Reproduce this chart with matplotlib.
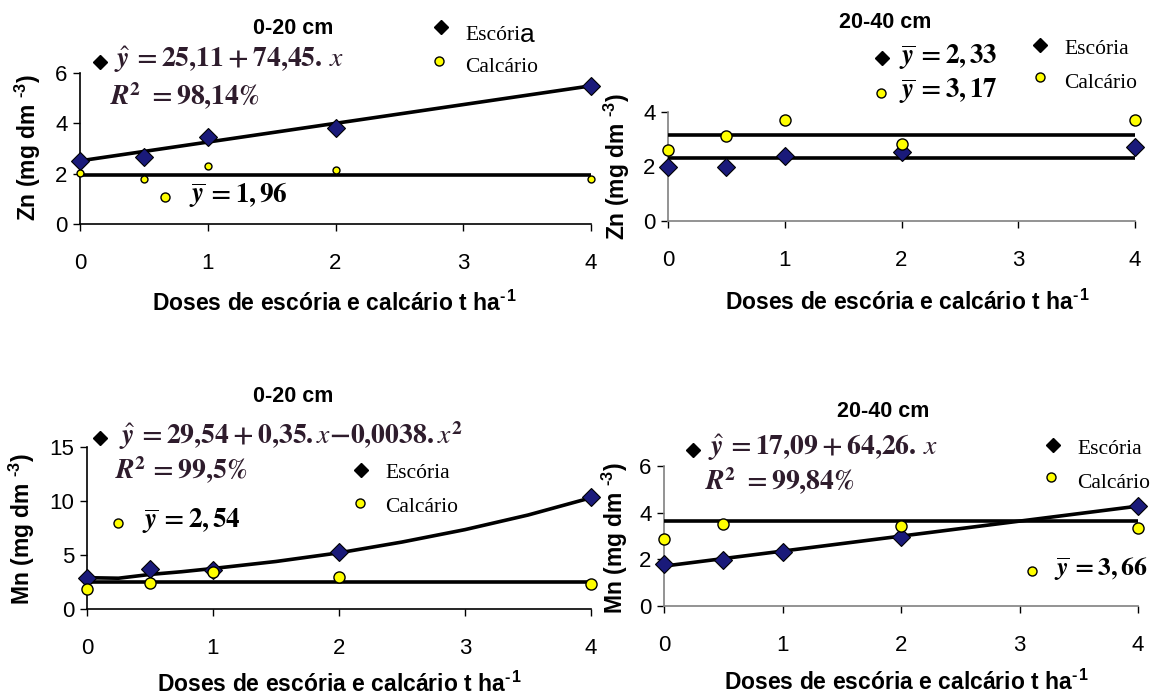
import matplotlib
matplotlib.use("Agg")
import matplotlib.pyplot as plt

# --------------------------------------------------------------------------
# Data
# --------------------------------------------------------------------------
doses = [0, 0.5, 1, 2, 4]

zn_020_escoria = [2.50, 2.66, 3.46, 3.80, 5.50]
zn_020_calcario = [2.03, 1.78, 2.30, 2.14, 1.79]
zn_020_fit_x = [0, 4]
zn_020_fit_y = [2.51, 5.49]
zn_020_mean = 1.96

zn_2040_escoria = [1.97, 1.98, 2.40, 2.55, 2.72]
zn_2040_calcario = [2.60, 3.12, 3.70, 2.82, 3.70]
zn_2040_mean_esc = 2.33
zn_2040_mean_cal = 3.17

mn_020_escoria = [2.85, 3.70, 3.60, 5.30, 10.40]
mn_020_calcario = [1.85, 2.45, 3.45, 2.95, 2.35]
mn_020_fit_x = [0, 0.25, 0.5, 0.75, 1, 1.5, 2, 2.5, 3, 3.5, 4]
mn_020_fit_y = [2.90, 2.85, 3.20, 3.45, 3.75, 4.40, 5.20, 6.20, 7.35, 8.70, 10.30]
mn_020_mean = 2.54

mn_2040_escoria = [1.80, 1.97, 2.33, 2.97, 4.30]
mn_2040_calcario = [2.87, 3.52, 5.15, 3.43, 3.33]
mn_2040_fit_x = [0, 4]
mn_2040_fit_y = [1.71, 4.28]
mn_2040_mean = 3.66

XTICKS = [0, 1, 2, 3, 4]
XLABEL = "Doses de escória e calcário t ha$^{\\mathbf{\u2010\u200a1}}$"
ZN_LABEL = "Zn (mg dm $^{\\mathbf{\u20103}}$)"
MN_LABEL = "Mn (mg dm $^{\\mathbf{\u20103}}$)"

# --------------------------------------------------------------------------
# Style
# --------------------------------------------------------------------------
plt.rcParams["font.family"] = ["Liberation Sans", "DejaVu Sans"]
plt.rcParams["mathtext.fontset"] = "custom"
plt.rcParams["mathtext.rm"] = "Liberation Sans"
plt.rcParams["mathtext.bf"] = "Liberation Sans:bold"
plt.rcParams["mathtext.it"] = "Liberation Sans:italic"

W, H = 1150, 699
NAVY = "#1a1a7a"
YELLOW = "#ffff00"
EQ_COLOR = "#2e1c2c"

fig = plt.figure(figsize=(W / 100, H / 100), dpi=100)


def px(x, y):
    return x / W, 1 - y / H


def add_axes(x0, x1, y0, y1):
    l, b = px(x0, y0)
    return fig.add_axes([l, b, (x1 - x0) / W, (y0 - y1) / H])


def style_axes(ax, ymax, yticks, spine_color):
    ax.set_xlim(0, 4)
    ax.set_ylim(0, ymax)
    ax.set_xticks(XTICKS)
    ax.set_yticks(yticks)
    for s in ("top", "right"):
        ax.spines[s].set_visible(False)
    for s in ("left", "bottom"):
        ax.spines[s].set_color(spine_color)
        ax.spines[s].set_linewidth(1.2)
    ax.tick_params(axis="x", length=5, width=1, pad=16, labelsize=16)
    ax.tick_params(axis="y", length=5, width=1, pad=4, labelsize=16)


def text(x, y, s, **kw):
    fx, fy = px(x, y)
    kw.setdefault("va", "center")
    return fig.text(fx, fy, s, **kw)


def eq(x, y, s, color=EQ_COLOR, size=20, **kw):
    return text(x, y, s, color=color, fontsize=size, math_fontfamily="stix", **kw)


def mark(x, y, kind, size=None):
    fx, fy = px(x, y)
    if kind == "D":
        fig.lines.append(plt.Line2D([fx], [fy], marker="D", ms=size or 7, color="black",
                                    transform=fig.transFigure))
    else:
        fig.lines.append(plt.Line2D([fx], [fy], marker="o", ms=size or 6.5, mfc=YELLOW,
                                    mec="black", mew=1, transform=fig.transFigure))


def points(ax, y, kind, ms):
    if kind == "D":
        ax.plot(doses, y, "D", ms=ms, mfc=NAVY, mec="black", mew=0.8,
                clip_on=False, zorder=4)
    else:
        ax.plot(doses, y, "o", ms=ms, mfc=YELLOW, mec="black", mew=1,
                clip_on=False, zorder=5)


def labels(xl, yl, ylab):
    text(xl[0], xl[1], XLABEL, fontsize=16.5, fontweight="bold", ha="center")
    text(yl[0], yl[1], ylab, fontsize=16.5, fontweight="bold", ha="center",
         rotation=90)


def legend(dx, dy, tx, esc_y, cx, cy, cal_y, esc="Escória"):
    mark(dx, dy, "D")
    text(tx, esc_y, esc, family="Liberation Serif", fontsize=15.5)
    mark(cx, cy, "o")
    text(tx, cal_y, "Calcário", family="Liberation Serif", fontsize=15.5)


# --------------------------------------------------------------------------
# Zn 0-20 cm
# --------------------------------------------------------------------------
ax1 = add_axes(80, 591, 224, 73)
style_axes(ax1, 6, [0, 2, 4, 6], "black")
ax1.plot(zn_020_fit_x, zn_020_fit_y, color="black", lw=2.6, zorder=3)
ax1.axhline(zn_020_mean, color="black", lw=2.6, zorder=3)
points(ax1, zn_020_escoria, "D", 9)
points(ax1, zn_020_calcario, "o", 5)
labels((334, 303), (28, 148), ZN_LABEL)

text(293, 29, "0-20 cm", fontsize=15.5, fontweight="bold", ha="center")
legend(441, 27, 465, 35, 439, 61, 67, esc="Escóri")
text(520, 35, "a", fontsize=19)
mark(100, 62, "D")
eq(114, 60, r"$\hat{\mathbfit{y}}\mathbf{\,=25{,}11+74{,}45.}\,\mathit{x}$")
eq(110, 96, r"$\mathbfit{R}^{\mathbf{2}}\mathbf{\ =98{,}14\%}$")
mark(165, 197, "o")
eq(189, 195, r"$\overline{\mathbfit{y}}\mathbf{\,=1,96}$", color="black", size=19.5)

# --------------------------------------------------------------------------
# Zn 20-40 cm
# --------------------------------------------------------------------------
ax2 = add_axes(668, 1135, 221, 112)
style_axes(ax2, 4, [0, 2, 4], "#808080")
ax2.axhline(zn_2040_mean_esc, color="black", lw=2.6, zorder=3)
ax2.axhline(zn_2040_mean_cal, color="black", lw=2.6, zorder=3)
points(ax2, zn_2040_escoria, "D", 9)
points(ax2, zn_2040_calcario, "o", 8)
labels((907, 302), (617, 167), ZN_LABEL)

text(885, 23, "20-40 cm", fontsize=15.5, fontweight="bold", ha="center")
mark(882, 58, "D")
eq(899, 57, r"$\overline{\mathbfit{y}}\mathbf{\,=2,33}$", color="black", size=19.5)
mark(881, 93, "o")
eq(899, 91, r"$\overline{\mathbfit{y}}\mathbf{\,=3,17}$", color="black", size=19.5)
legend(1040, 45, 1064, 49, 1040, 77, 84)

# --------------------------------------------------------------------------
# Mn 0-20 cm
# --------------------------------------------------------------------------
ax3 = add_axes(87, 591, 609, 447)
style_axes(ax3, 15, [0, 5, 10, 15], "black")
ax3.plot(mn_020_fit_x, mn_020_fit_y, color="black", lw=2.6, zorder=3)
ax3.axhline(mn_020_mean, color="black", lw=2.6, zorder=3)
points(ax3, mn_020_escoria, "D", 9)
points(ax3, mn_020_calcario, "o", 8)
labels((339, 684), (22, 529), MN_LABEL)

text(293, 397, "0-20 cm", fontsize=15.5, fontweight="bold", ha="center")
mark(100, 438, "D")
eq(119, 436, r"$\hat{\mathbfit{y}}\mathbf{\,=29{,}54+0{,}35.}\mathit{x}\mathbf{-0{,}0038.}\mathit{x}^{\mathbf{2}}$")
eq(115, 470, r"$\mathbfit{R}^{\mathbf{2}}\mathbf{\,=99{,}5\%}$")
mark(118, 523, "o")
eq(142, 521, r"$\overline{\mathbfit{y}}\mathbf{\,=2,54}$", color="black", size=19.5)
legend(361, 470, 385, 474, 360, 503, 508)

# --------------------------------------------------------------------------
# Mn 20-40 cm
# --------------------------------------------------------------------------
ax4 = add_axes(664, 1138, 606, 466)
style_axes(ax4, 6, [0, 2, 4, 6], "#808080")
ax4.plot(mn_2040_fit_x, mn_2040_fit_y, color="black", lw=2.6, zorder=3)
ax4.axhline(mn_2040_mean, color="black", lw=2.6, zorder=3)
points(ax4, mn_2040_escoria, "D", 9)
points(ax4, mn_2040_calcario, "o", 8)
labels((906, 682), (615, 538), MN_LABEL)

text(883, 412, "20-40 cm", fontsize=15.5, fontweight="bold", ha="center")
mark(693, 450, "D")
eq(708, 448, r"$\hat{\mathbfit{y}}\mathbf{\,=17{,}09+64{,}26.}\,\mathit{x}$")
eq(705, 481, r"$\mathbfit{R}^{\mathbf{2}}\mathbf{\ =99{,}84\%}$",
   bbox=dict(facecolor="white", edgecolor="none", pad=2), zorder=10)
legend(1053, 445, 1077, 449, 1051, 477, 484)
mark(1032, 571, "o")
eq(1054, 569, r"$\overline{\mathbfit{y}}\mathbf{\,=3,66}$", color="black", size=18.5)

fig.savefig("out.png", dpi=100)
